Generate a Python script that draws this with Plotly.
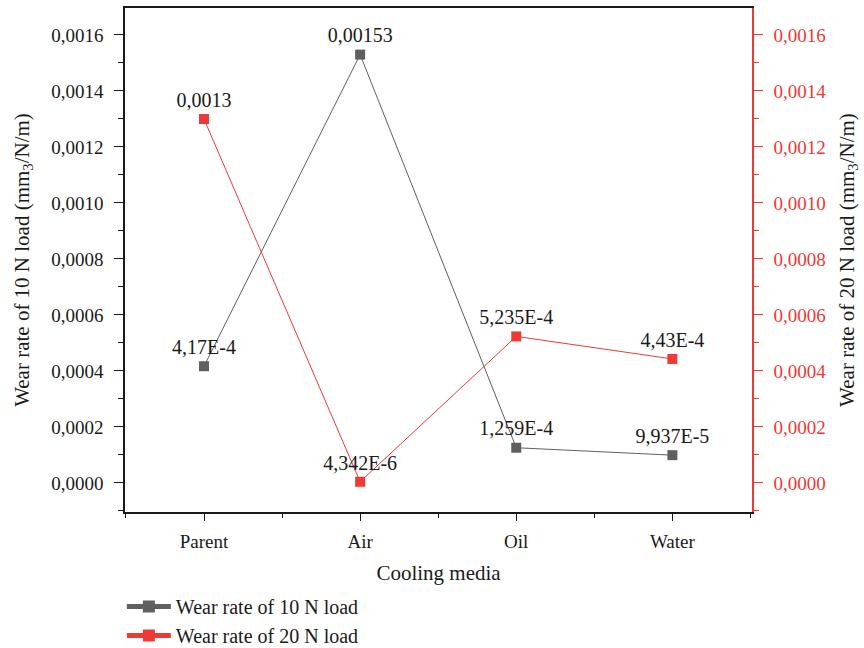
import plotly.graph_objects as go

categories = ["Parent", "Air", "Oil", "Water"]
wear_10N = [4.17e-4, 0.00153, 1.259e-4, 9.937e-5]
wear_20N = [0.0013, 4.342e-6, 5.235e-4, 4.43e-4]
labels_10N = ["4,17E-4", "0,00153", "1,259E-4", "9,937E-5"]
labels_20N = ["0,0013", "4,342E-6", "5,235E-4", "4,43E-4"]
ytick_vals = [0, 0.0002, 0.0004, 0.0006, 0.0008, 0.0010, 0.0012, 0.0014, 0.0016]

FONT = "Liberation Serif"
GRAY = "#5f5f5f"
RED = "#ee3a36"
INK = "#1a1a1a"
xpos = list(range(len(categories)))

fig = go.Figure()
fig.add_trace(go.Scatter(
    x=xpos, y=wear_10N, mode="lines+markers+text", name="Wear rate of 10 N load",
    line=dict(color=GRAY, width=1), marker=dict(symbol="square", size=10, color=GRAY),
    text=labels_10N, textposition="top center", textfont=dict(family=FONT, size=20, color=INK),
    yaxis="y"))
fig.add_trace(go.Scatter(
    x=xpos, y=wear_20N, mode="lines+markers+text", name="Wear rate of 20 N load",
    line=dict(color=RED, width=1), marker=dict(symbol="square", size=10, color=RED),
    text=labels_20N, textposition="top center", textfont=dict(family=FONT, size=20, color=INK),
    yaxis="y2"))

yr = [-0.0001036, 0.0016964]
fig.update_layout(
    width=864, height=648, separators=",.",
    paper_bgcolor="white", plot_bgcolor="white",
    margin=dict(l=125, r=112, t=8, b=136, autoexpand=False),
    font=dict(family=FONT, size=18, color=INK),
    xaxis=dict(range=[-0.506, 3.51], tickmode="array", tickvals=xpos, ticktext=categories,
               showline=True, linecolor=INK, linewidth=1.5, mirror=True,
               ticks="outside", ticklen=7, tickcolor=INK, showgrid=False, zeroline=False,
               ticklabelstandoff=4,
               minor=dict(tickmode="array", tickvals=[-0.5, 0.5, 1.5, 2.5, 3.5], ticks="outside",
                          ticklen=4, tickcolor=INK),
               title=dict(text="Cooling media", font=dict(size=21), standoff=15),
               tickfont=dict(size=19)),
    yaxis=dict(range=yr, tickmode="array", tickvals=ytick_vals, tickformat=".4f",
               showline=True, linecolor=INK, linewidth=1.5, ticks="outside", ticklen=9,
               tickcolor=INK, showgrid=False, zeroline=False, ticklabelstandoff=7,
               minor=dict(dtick=0.0002, tick0=0.0001, ticks="outside", ticklen=5, tickcolor=INK),
               title=dict(text="Wear rate of 10 N load (mm<sub>3</sub>/N/m)", font=dict(size=21), standoff=16),
               tickfont=dict(size=19)),
    yaxis2=dict(range=yr, overlaying="y", side="right", tickmode="array", tickvals=ytick_vals,
                tickformat=".4f", showline=True, linecolor=RED, linewidth=1.5, ticks="outside",
                ticklen=9, tickcolor=RED, showgrid=False, zeroline=False, ticklabelstandoff=7,
                minor=dict(dtick=0.0002, tick0=0.0001, ticks="outside", ticklen=5, tickcolor=RED),
                tickfont=dict(size=19, color=RED),
                title=dict(text="Wear rate of 20 N load (mm<sub>3</sub>/N/m)", font=dict(size=21, color=INK), standoff=14)),
    legend=dict(x=-0.005, y=-0.149, xanchor="left", yanchor="top", bgcolor="rgba(0,0,0,0)",
                font=dict(size=20), tracegroupgap=0, itemsizing="constant", itemwidth=44),
    showlegend=True,
)
fig.write_html("out.html")
